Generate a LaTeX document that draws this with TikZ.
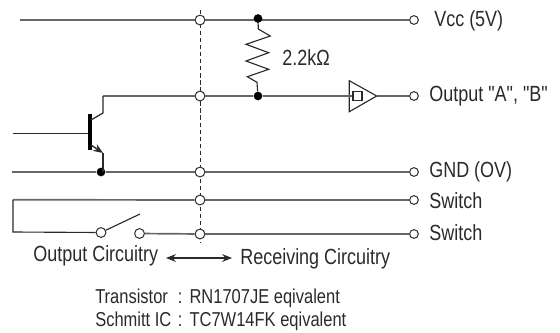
\documentclass[tikz,border=0pt]{standalone}
\usepackage{fontspec}
\setmainfont{Liberation Sans}[FakeStretch=0.82,Ligatures=TeXOff]
\usetikzlibrary{arrows.meta}
\definecolor{wiregray}{HTML}{666666}
\definecolor{inkgray}{HTML}{2A2A2A}
\newcommand{\partline}[2]{\makebox[58.8pt][l]{#1 }\makebox[5pt][l]{:} #2}
\tikzset{
  wire/.style={wiregray,line width=1.2pt},
  thinwire/.style={inkgray,line width=0.8pt},
  opendot/.style={circle,draw=inkgray,fill=white,line width=0.7pt,minimum size=7pt,inner sep=0pt},
  termdot/.style={circle,draw=inkgray,fill=white,line width=0.7pt,minimum size=6.2pt,inner sep=0pt},
  soliddot/.style={circle,fill=black,minimum size=6.2pt,inner sep=0pt},
  lab/.style={anchor=west,inner sep=0pt,text=inkgray,font=\fontsize{15.6}{17}\selectfont},
  note/.style={anchor=west,inner sep=0pt,text=inkgray,font=\fontsize{14.3}{16}\selectfont},
  tip/.style={{Stealth[length=7pt,width=5.5pt]}-{Stealth[length=7pt,width=5.5pt]}}
}
\begin{document}
\begin{tikzpicture}[x=0.025cm,y=-0.025cm]
\useasboundingbox (0,0) rectangle (560,332);
% Dashed divider
\coordinate (divtop) at (200,10);
\coordinate (divbot) at (200,243);
\draw[inkgray,line width=0.7pt,densely dashed] (divtop)--(divbot);
% Free ends
\coordinate (vccleft) at (20,20);
\coordinate (gndleft) at (12,172);
\coordinate (baseleft) at (13,133.5);
\coordinate (loopupper) at (13,199.7);
\coordinate (looplower) at (13,232);
\coordinate (collknee) at (103,96);
\coordinate (collbend) at (103,113);
\coordinate (colltop) at (91,120);
\coordinate (emitbend) at (103,153);
\coordinate (emitlow) at (91,145);
\coordinate (basebar) at (88,133.5);
\coordinate (armtip) at (140,214);
\coordinate (arrowleft) at (166,258);
\coordinate (arrowright) at (232,258);
% Dots on the divider
\node[opendot] (vccmid) at (200,20) {};
\node[opendot] (outmid) at (200,96) {};
\node[opendot] (gndmid) at (200,172) {};
\node[opendot] (swamid) at (200,200) {};
\node[opendot] (swbmid) at (200,234) {};
% Terminals
\node[termdot] (vccterm) at (414,20) {};
\node[termdot] (outterm) at (414,96) {};
\node[termdot] (gndterm) at (414,172) {};
\node[termdot] (swaterm) at (414,200) {};
\node[termdot] (swbterm) at (414,234) {};
% Vcc rail goes under its solid dot
\draw[wire] (vccleft)--(vccmid);
\draw[wire] (vccmid)--(vccterm);
% Solid dots
\node[soliddot] (vccjoin) at (258,18.5) {};
\node[soliddot] (outjoin) at (258,96) {};
\node[soliddot] (gndjoin) at (101,172) {};
% Switch contacts
\node[opendot] (swleft) at (101,232.5) {};
\node[opendot] (swright) at (139.5,233.5) {};
% Schmitt buffer
\coordinate (bufin) at (353,96);
\coordinate (bufout) at (376.7,96);
\draw[thinwire] (349.3,80.7)--(349.3,111.7)--(bufout)--cycle;
% Wires
\draw[wire] (collknee)--(outmid);
\draw[wire] (outmid)--(outjoin);
\draw[wire] (outjoin)--(bufin);
\draw[wire] (bufout)--(outterm);
\draw[wire] (gndleft)--(gndjoin);
\draw[wire] (gndjoin)--(gndmid);
\draw[wire] (gndmid)--(gndterm);
\draw[wire] (swamid)--(swaterm);
\draw[wire] (swbmid)--(swbterm);
\draw[wire] (swright)--(swbmid);
\draw[wire] (loopupper)--(swamid);
\draw[thinwire] (loopupper)--(looplower)--(swleft);
\draw[thinwire] (swleft)--(armtip);
\draw[thinwire] (353,91.3) rectangle (362,100.7);
% Resistor
\draw[thinwire] (vccjoin)--(258.3,29)--(270.3,36)--(246,44.3)--(268.7,52.7)--(246,61)--(268.7,69.3)--(247.3,76.7)--(257,82.3)--(outjoin);
% Transistor
\draw[black,line width=2.6pt] (90,114)--(90,150);
\draw[thinwire,line width=0.9pt] (baseleft)--(basebar);
\draw[thinwire,line width=0.9pt] (colltop)--(collbend)--(collknee);
\draw[thinwire,line width=0.9pt,-{Stealth[length=7pt,width=5.5pt]}] (emitlow)--(emitbend);
\draw[thinwire,line width=0.9pt] (emitbend)--(emitbend |- gndjoin);
% Labels
\node[lab] (vcclab) at (434,21) {Vcc (5V)};
\node[lab] (reslab) at (282,58) {2.2kΩ};
\node[lab] (outlab) at (429,96) {Output "A", "B"};
\node[lab] (gndlab) at (429,172) {GND (OV)};
\node[lab] (swalab) at (429,201) {Switch};
\node[lab] (swblab) at (429,233) {Switch};
\node[lab] (sendlab) at (33,256) {Output Circuitry};
\node[lab] (recvlab) at (240,259) {Receiving Circuitry};
% Arrow between the two circuit labels
\draw[thinwire,tip] (arrowleft)--(arrowright);
% Parts list
\node[note] (translab) at (95,298) {\partline{Transistor}{RN1707JE eqivalent}};
\node[note] (schmlab) at (95,321) {\partline{Schmitt IC}{TC7W14FK eqivalent}};
\end{tikzpicture}
\end{document}
